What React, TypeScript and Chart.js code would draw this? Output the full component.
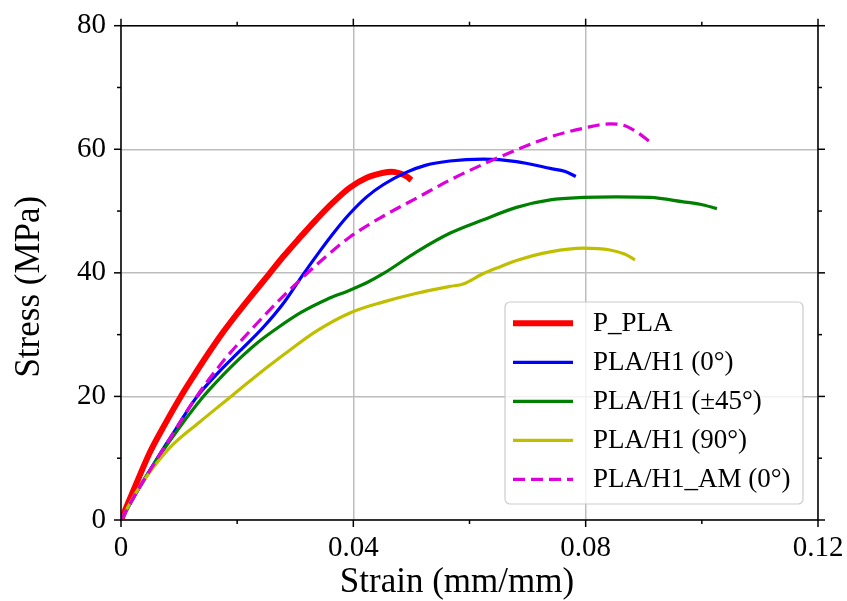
import React, { useEffect, useRef } from "react";
import { Chart, registerables } from "chart.js";

Chart.register(...registerables);

// ---- data ----
const seriesLabels = ["P_PLA", "PLA/H1 (0°)", "PLA/H1 (±45°)", "PLA/H1 (90°)", "PLA/H1_AM (0°)"];
const seriesColors = ["#ff0000", "#0000ff", "#008000", "#bfbf00", "#dd00dd"];

const xTitle = "Strain (mm/mm)";
const yTitle = "Stress (MPa)";

const xTicks = [0, 0.04, 0.08, 0.12];
const xTickLabels = ["0", "0.04", "0.08", "0.12"];
const xMinorTicks = [0.02, 0.06, 0.1];
const yTicks = [0, 20, 40, 60, 80];
const yTickLabels = ["0", "20", "40", "60", "80"];
const yMinorTicks = [10, 30, 50, 70];

const pPlaStrain = [0, 0.0025, 0.005, 0.0075, 0.0103, 0.0125, 0.015, 0.0175, 0.02, 0.0222, 0.0255, 0.0279, 0.0306, 0.0337, 0.0365, 0.0394, 0.0423, 0.0452, 0.0466, 0.048, 0.0492, 0.05];
const pPlaStress = [0, 5.6, 11.0, 15.4, 20, 23.3, 26.9, 30.3, 33.4, 36.0, 39.8, 42.6, 45.5, 48.7, 51.4, 53.8, 55.4, 56.2, 56.35, 56.1, 55.6, 55.0];

const h1ZeroStrain = [0, 0.003, 0.0065, 0.0095, 0.0128, 0.0165, 0.0205, 0.0245, 0.0279, 0.0311, 0.0343, 0.0368, 0.0394, 0.0423, 0.0452, 0.0492, 0.0524, 0.0566, 0.0624, 0.0681, 0.0739, 0.0765, 0.0783];
const h1ZeroStress = [0, 5.0, 10.4, 14.8, 19.6, 23.6, 27.4, 31.2, 35.0, 39.4, 43.6, 46.7, 49.6, 52.3, 54.3, 56.3, 57.4, 58.1, 58.4, 58.0, 56.9, 56.4, 55.6];

const h1Pm45Strain = [0, 0.003, 0.0065, 0.01, 0.014, 0.0175, 0.0205, 0.0235, 0.0268, 0.031, 0.0354, 0.0394, 0.0423, 0.0452, 0.0509, 0.0566, 0.0624, 0.0681, 0.0739, 0.0796, 0.0853, 0.0911, 0.0968, 0.0997, 0.1026];
const h1Pm45Stress = [0, 5.0, 10.2, 14.9, 19.8, 23.4, 26.2, 28.7, 31.0, 33.6, 35.7, 37.2, 38.4, 39.9, 43.4, 46.4, 48.6, 50.6, 51.8, 52.2, 52.3, 52.2, 51.5, 51.1, 50.4];

const h1NinetyStrain = [0, 0.0025, 0.005, 0.0085, 0.0136, 0.0175, 0.0205, 0.025, 0.0295, 0.0337, 0.0394, 0.0452, 0.0509, 0.0566, 0.0589, 0.0624, 0.0653, 0.0681, 0.0739, 0.0796, 0.0842, 0.0868, 0.0885];
const h1NinetyStress = [0, 4.3, 7.8, 11.8, 15.9, 18.9, 21.2, 24.6, 27.8, 30.6, 33.5, 35.3, 36.7, 37.8, 38.2, 39.9, 41.0, 42.0, 43.4, 44.0, 43.7, 43.0, 42.1];

const h1AmStrain = [0, 0.003, 0.0065, 0.0095, 0.0125, 0.0175, 0.0234, 0.0279, 0.0302, 0.035, 0.0394, 0.0452, 0.0509, 0.0566, 0.0624, 0.0681, 0.0739, 0.0796, 0.0842, 0.0865, 0.0888, 0.0911];
const h1AmStress = [0, 5.0, 10.3, 14.8, 19.3, 25.6, 31.8, 36.2, 38.3, 42.4, 45.8, 49.2, 52.1, 55.0, 57.6, 59.9, 62.0, 63.4, 64.1, 63.9, 62.8, 61.2];

const strains = [pPlaStrain, h1ZeroStrain, h1Pm45Strain, h1NinetyStrain, h1AmStrain];
const stresses = [pPlaStress, h1ZeroStress, h1Pm45Stress, h1NinetyStress, h1AmStress];
const lineWidths = [6, 3.2, 3.2, 3.2, 3.2];
const dashes: number[][] = [[], [], [], [], [12, 6]];

const SERIF = "'Liberation Serif', 'Times New Roman', serif";

const framePlugin = {
  id: "frame",
  afterDatasetsDraw(chart: any) {
    const { ctx, chartArea: a, scales } = chart;
    const x = scales.x;
    const y = scales.y;
    ctx.save();
    ctx.strokeStyle = "#000";
    ctx.lineWidth = 1.5;
    ctx.beginPath();
    ctx.rect(a.left, a.top, a.right - a.left, a.bottom - a.top);
    ctx.stroke();
    const seg = (x1: number, y1: number, x2: number, y2: number) => {
      ctx.beginPath();
      ctx.moveTo(x1, y1);
      ctx.lineTo(x2, y2);
      ctx.stroke();
    };
    const xt = (vals: number[], len: number) =>
      vals.forEach((v) => {
        const p = x.getPixelForValue(v);
        seg(p, a.bottom, p, a.bottom + len);
        seg(p, a.top, p, a.top - len);
      });
    const yt = (vals: number[], len: number) =>
      vals.forEach((v) => {
        const p = y.getPixelForValue(v);
        seg(a.left, p, a.left - len, p);
        seg(a.right, p, a.right + len, p);
      });
    xt(xTicks, 7);
    xt(xMinorTicks, 4);
    yt(yTicks, 7);
    yt(yMinorTicks, 4);
    ctx.restore();
  },
};

// axis titles, placed as in the reference (slightly toward the origin)
const titlesPlugin = {
  id: "axisTitles",
  afterDraw(chart: any) {
    const { ctx, chartArea: a } = chart;
    ctx.save();
    ctx.fillStyle = "#000";
    ctx.font = `35px ${SERIF}`;
    ctx.textAlign = "center";
    ctx.textBaseline = "middle";
    const cx = a.left + (a.right - a.left) * 0.482;
    ctx.fillText(xTitle, cx, a.bottom + 63);
    const cy = a.top + (a.bottom - a.top) * 0.528;
    ctx.translate(30, cy);
    ctx.rotate(-Math.PI / 2);
    ctx.fillText(yTitle, 0, 0);
    ctx.restore();
  },
};

const legendPlugin = {
  id: "customLegend",
  afterDraw(chart: any) {
    const { ctx, chartArea: a } = chart;
    const w = 298;
    const h = 202;
    const right = a.right - 15;
    const bottom = a.bottom - 16;
    const left = right - w;
    const top = bottom - h;
    ctx.save();
    ctx.beginPath();
    ctx.roundRect(left, top, w, h, 5);
    ctx.fillStyle = "rgba(255,255,255,0.8)";
    ctx.fill();
    ctx.strokeStyle = "#cccccc";
    ctx.lineWidth = 1.2;
    ctx.stroke();
    ctx.font = `27px ${SERIF}`;
    ctx.textBaseline = "middle";
    ctx.textAlign = "left";
    chart.data.datasets.forEach((ds: any, i: number) => {
      const cy = top + 21.3 + i * 39;
      ctx.beginPath();
      ctx.strokeStyle = ds.borderColor;
      ctx.lineWidth = ds.borderWidth;
      ctx.setLineDash(ds.borderDash || []);
      ctx.moveTo(left + 8, cy);
      ctx.lineTo(left + 68, cy);
      ctx.stroke();
      ctx.setLineDash([]);
      ctx.fillStyle = "#000";
      ctx.fillText(ds.label, left + 88, cy + 1);
    });
    ctx.restore();
  },
};

export default function App() {
  const ref = useRef<HTMLCanvasElement | null>(null);
  useEffect(() => {
    if (!ref.current) return;
    const datasets = seriesLabels.map((label, i) => ({
      label,
      data: strains[i].map((s, k) => ({ x: s, y: stresses[i][k] })),
      borderColor: seriesColors[i],
      backgroundColor: seriesColors[i],
      borderWidth: lineWidths[i],
      borderDash: dashes[i],
      pointRadius: 0,
      pointHoverRadius: 0,
      fill: false,
      cubicInterpolationMode: "monotone" as const,
      order: seriesLabels.length - i,
    }));
    const chart = new Chart(ref.current, {
      type: "line",
      data: { datasets },
      options: {
        responsive: false,
        animation: false,
        layout: { autoPadding: false, padding: { top: 25.7, right: 29, left: 0, bottom: 0 } },
        plugins: { legend: { display: false }, tooltip: { enabled: false } },
        scales: {
          x: {
            type: "linear",
            min: 0,
            max: 0.12,
            afterBuildTicks: (s: any) => {
              s.ticks = xTicks.map((v) => ({ value: v }));
            },
            afterFit: (s: any) => {
              s.height = 81;
              s.paddingLeft = 0;
              s.paddingRight = 0;
              s.paddingTop = 0;
              s.paddingBottom = 0;
            },
            ticks: {
              color: "#000",
              font: { family: SERIF, size: 29 },
              padding: 11,
              maxRotation: 0,
              autoSkip: false,
              callback: (v: any, idx: number) => xTickLabels[idx],
            },
            grid: { color: "#bdbdbd", lineWidth: 1.5, drawTicks: false },
            border: { display: false },
            title: { display: false },
          },
          y: {
            type: "linear",
            min: 0,
            max: 80,
            afterBuildTicks: (s: any) => {
              s.ticks = yTicks.map((v) => ({ value: v }));
            },
            afterFit: (s: any) => {
              s.width = 121;
              s.paddingLeft = 0;
              s.paddingRight = 0;
              s.paddingTop = 0;
              s.paddingBottom = 0;
            },
            ticks: {
              color: "#000",
              font: { family: SERIF, size: 29 },
              padding: 15,
              autoSkip: false,
              callback: (v: any, idx: number) => yTickLabels[idx],
            },
            grid: { color: "#bdbdbd", lineWidth: 1.5, drawTicks: false },
            border: { display: false },
            title: { display: false },
          },
        },
      },
      plugins: [framePlugin, titlesPlugin, legendPlugin],
    });
    return () => chart.destroy();
  }, []);
  return (
    <div style={{ position: "fixed", left: 0, top: 0, width: 847, height: 601, background: "#fff" }}>
      <canvas ref={ref} width={847} height={601} />
    </div>
  );
}
